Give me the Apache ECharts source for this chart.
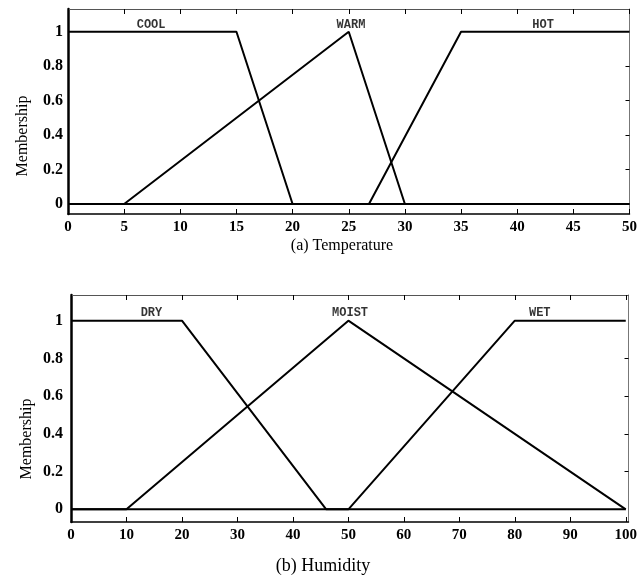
<!DOCTYPE html>
<html>
<head>
<meta charset="utf-8">
<script src="https://cdn.jsdelivr.net/npm/echarts@6/dist/echarts.min.js"></script>
<style>
  html, body { margin: 0; padding: 0; background: #fff; }
  #chart { width: 640px; height: 581px; }
</style>
</head>
<body>
<div id="chart"></div>
<script>
// Temperature fuzzy sets: [temperature, membership]
const tempCool = [[0, 1], [15, 1], [20, 0], [50, 0]];
const tempWarm = [[0, 0], [5, 0], [25, 1], [30, 0], [50, 0]];
const tempHot  = [[0, 0], [26.8, 0], [35, 1], [50, 1]];

// Humidity fuzzy sets: [humidity, membership]
const humDry   = [[0, 1], [20, 1], [46, 0], [100, 0]];
const humMoist = [[0, 0], [10, 0], [50, 1], [100, 0]];
const humWet   = [[0, 0], [50, 0], [80, 1], [100, 1]];

// Set names, anchored in data space just above the plateau
const tempSetNames = [[7.4, 1.037, 'COOL'], [25.2, 1.037, 'WARM'], [42.3, 1.037, 'HOT']];
const humSetNames  = [[14.5, 1.04, 'DRY'], [50.3, 1.04, 'MOIST'], [84.5, 1.04, 'WET']];

// Tick values
const tempTicks = [0, 5, 10, 15, 20, 25, 30, 35, 40, 45, 50];
const humTicks = [0, 10, 20, 30, 40, 50, 60, 70, 80, 90, 100];
const memberTicks = [0, 0.2, 0.4, 0.6, 0.8, 1];
const memberInnerTicks = [0.2, 0.4, 0.6, 0.8];

const SERIF = '"Liberation Serif", "Times New Roman", serif';
const MONO = '"Liberation Mono", "Courier New", monospace';

function bottomAxis(grid, min, max, ticks) {
  return {
    type: 'value', gridIndex: grid, position: 'bottom', min: min, max: max,
    axisLine: { show: true, onZero: false, lineStyle: { color: '#000', width: 1.5 } },
    axisTick: { show: true, inside: true, length: 5, customValues: ticks, lineStyle: { color: '#000', width: 1 } },
    axisLabel: { show: true, customValues: ticks, margin: 6, color: '#000',
      fontFamily: SERIF, fontWeight: 'bold', fontSize: 15 },
    splitLine: { show: false }
  };
}
function topAxis(grid, min, max, ticks) {
  return {
    type: 'value', gridIndex: grid, position: 'top', min: min, max: max,
    axisLine: { show: true, onZero: false, lineStyle: { color: '#555', width: 1 } },
    axisTick: { show: true, inside: true, length: 5, customValues: ticks, lineStyle: { color: '#000', width: 1 } },
    axisLabel: { show: false },
    splitLine: { show: false }
  };
}
function leftAxis(grid, min, max, margin) {
  return {
    type: 'value', gridIndex: grid, position: 'left', min: min, max: max,
    axisLine: { show: true, onZero: false, lineStyle: { color: '#000', width: 2.5 } },
    axisTick: { show: false },
    axisLabel: { show: true, customValues: memberTicks, margin: margin, color: '#000',
      fontFamily: SERIF, fontWeight: 'bold', fontSize: 16,
      formatter: v => String(+v.toFixed(1)), padding: [5, 0, 0, 0] },
    splitLine: { show: false }
  };
}
function rightAxis(grid, min, max) {
  return {
    type: 'value', gridIndex: grid, position: 'right', min: min, max: max,
    axisLine: { show: true, onZero: false, lineStyle: { color: '#777', width: 1 } },
    axisTick: { show: true, inside: true, length: 4, customValues: memberInnerTicks, lineStyle: { color: '#000', width: 1 } },
    axisLabel: { show: false },
    splitLine: { show: false }
  };
}

function mfLine(data, xi, yi) {
  return {
    type: 'line', data: data, xAxisIndex: xi, yAxisIndex: yi,
    showSymbol: false, symbol: 'none', silent: true,
    lineStyle: { color: '#000', width: 2 }, z: 3
  };
}
function nameSeries(names, xi, yi) {
  return {
    type: 'scatter', xAxisIndex: xi, yAxisIndex: yi, symbolSize: 0, silent: true, z: 4,
    data: names.map(n => ({ value: [n[0], n[1]], name: n[2] })),
    label: { show: true, formatter: p => p.name, position: 'inside',
      fontFamily: MONO, fontWeight: 'bold', fontSize: 12, color: '#000' }
  };
}

const chart = echarts.init(document.getElementById('chart'));
chart.setOption({
  animation: false,
  backgroundColor: '#fff',
  grid: [
    { left: 68, right: 7, top: 9, height: 205 },
    { left: 71, right: 9.3, top: 295, height: 227 }
  ],
  xAxis: [
    bottomAxis(0, 0, 50, tempTicks),
    topAxis(0, 0, 50, tempTicks),
    bottomAxis(1, 0, 100.5, humTicks),
    topAxis(1, 0, 100.5, humTicks)
  ],
  yAxis: [
    leftAxis(0, -0.058, 1.132, 5),
    rightAxis(0, -0.058, 1.132),
    leftAxis(1, -0.067, 1.136, 8),
    rightAxis(1, -0.067, 1.136)
  ],
  series: [
    mfLine(tempCool, 0, 0),
    mfLine(tempWarm, 0, 0),
    mfLine(tempHot, 0, 0),
    nameSeries(tempSetNames, 0, 0),
    mfLine(humDry, 2, 2),
    mfLine(humMoist, 2, 2),
    mfLine(humWet, 2, 2),
    nameSeries(humSetNames, 2, 2)
  ],
  graphic: [
    { type: 'text', x: 23, y: 136, rotation: Math.PI / 2,
      style: { text: 'Membership', font: '16px ' + SERIF, fill: '#000', align: 'center', verticalAlign: 'middle' } },
    { type: 'text', x: 27, y: 439, rotation: Math.PI / 2,
      style: { text: 'Membership', font: '16px ' + SERIF, fill: '#000', align: 'center', verticalAlign: 'middle' } },
    { type: 'text', x: 342, y: 246,
      style: { text: '(a) Temperature', font: '16px ' + SERIF, fill: '#000', align: 'center', verticalAlign: 'middle' } },
    { type: 'text', x: 323, y: 566,
      style: { text: '(b) Humidity', font: '18px ' + SERIF, fill: '#000', align: 'center', verticalAlign: 'middle' } }
  ]
});
</script>
</body>
</html>
